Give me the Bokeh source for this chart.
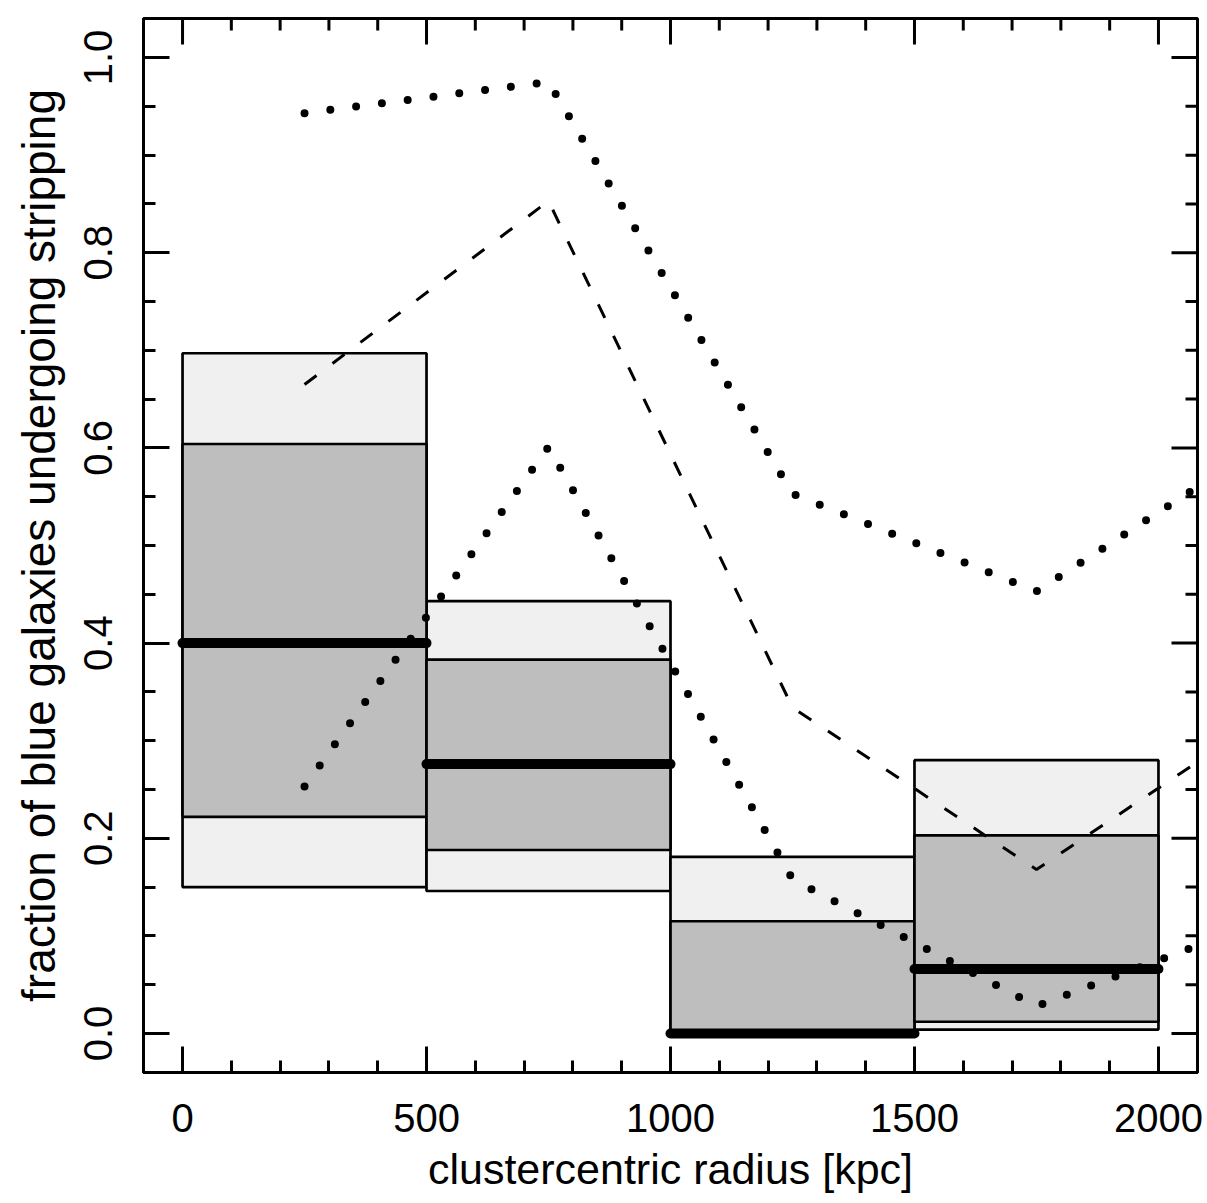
from bokeh.plotting import figure
from bokeh.models import LinearAxis, SingleIntervalTicker, Range1d, PrintfTickFormatter
from bokeh.embed import file_html
from bokeh.resources import INLINE

# ---- data ----
bin_left = [0, 500, 1000, 1500]
bin_right = [500, 1000, 1500, 2000]
outer_lo = [0.150, 0.146, 0.000, 0.004]
outer_hi = [0.697, 0.443, 0.181, 0.280]
inner_lo = [0.222, 0.188, 0.000, 0.012]
inner_hi = [0.604, 0.383, 0.115, 0.203]
median = [0.400, 0.276, 0.000, 0.066]

curve_x = [250, 750, 1250, 1750, 2250]
dashed_y = [0.665, 0.853, 0.334, 0.168, 0.335]
upper_dot_y = [0.943, 0.975, 0.553, 0.453, 0.615]
lower_dot_y = [0.253, 0.601, 0.158, 0.028, 0.122]

# tick values
x_major = [0, 500, 1000, 1500, 2000]
x_minor = [100, 200, 300, 400, 600, 700, 800, 900, 1100, 1200, 1300, 1400,
           1600, 1700, 1800, 1900]
y_major = [0.0, 0.2, 0.4, 0.6, 0.8, 1.0]
y_minor = [0.05, 0.1, 0.15, 0.25, 0.3, 0.35, 0.45, 0.5, 0.55, 0.65, 0.7, 0.75,
           0.85, 0.9, 0.95]

FONT = "Liberation Sans"
X0, X1 = -80, 2080
Y0, Y1 = -0.04, 1.04
FW, FH = 1054, 1054  # frame size in px

p = figure(width=1207, height=1203, output_backend="svg", toolbar_location=None,
           x_range=Range1d(X0, X1), y_range=Range1d(Y0, Y1),
           x_axis_location=None, y_axis_location=None,
           min_border_left=143, min_border_right=10, min_border_top=18, min_border_bottom=131)
p.grid.visible = False
p.background_fill_color = "white"
p.border_fill_color = "white"
p.outline_line_color = "black"
p.outline_line_width = 3

# boxes
p.quad(left=bin_left, right=bin_right, bottom=outer_lo, top=outer_hi,
       fill_color="#f0f0f0", line_color="black", line_width=2.7)
p.quad(left=bin_left, right=bin_right, bottom=inner_lo, top=inner_hi,
       fill_color="#bebebe", line_color="black", line_width=2.7)
# medians
p.segment(x0=bin_left, x1=bin_right, y0=median, y1=median,
          line_color="black", line_width=10, line_cap="round")

# curves
p.line(curve_x, dashed_y, line_color="black", line_width=3, line_dash="15 20")
p.line(curve_x, upper_dot_y, line_color="black", line_width=8, line_dash="0 26", line_cap="round")
p.line(curve_x, lower_dot_y, line_color="black", line_width=8, line_dash="0 26", line_cap="round")

# ticks on top and right sides (mirror of bottom/left axes)
ux = (X1 - X0) / FW   # data units per px, x
uy = (Y1 - Y0) / FH   # data units per px, y
MAJ, MIN = 26, 12
p.segment(x0=x_major, x1=x_major, y0=[Y1] * len(x_major), y1=[Y1 - MAJ * uy] * len(x_major),
          line_color="black", line_width=3)
p.segment(x0=x_minor, x1=x_minor, y0=[Y1] * len(x_minor), y1=[Y1 - MIN * uy] * len(x_minor),
          line_color="black", line_width=3)
p.segment(y0=y_major, y1=y_major, x0=[X1] * len(y_major), x1=[X1 - MAJ * ux] * len(y_major),
          line_color="black", line_width=3)
p.segment(y0=y_minor, y1=y_minor, x0=[X1] * len(y_minor), x1=[X1 - MIN * ux] * len(y_minor),
          line_color="black", line_width=3)


def style(ax):
    ax.axis_line_width = 3
    ax.axis_line_color = "black"
    ax.major_tick_line_width = 3
    ax.minor_tick_line_width = 3
    ax.major_tick_in = MAJ
    ax.major_tick_out = 0
    ax.minor_tick_in = MIN
    ax.minor_tick_out = 0
    ax.major_label_text_font = FONT
    ax.axis_label_text_font = FONT
    ax.axis_label_text_font_style = "normal"
    ax.major_label_text_color = "black"
    ax.axis_label_text_color = "black"


xb = LinearAxis(ticker=SingleIntervalTicker(interval=500, num_minor_ticks=5),
                axis_label="clustercentric radius [kpc]")
style(xb)
xb.major_label_text_font_size = "40px"
xb.major_label_standoff = 31
xb.axis_label_text_font_size = "43px"
xb.axis_label_standoff = 10
p.add_layout(xb, "below")

yl = LinearAxis(ticker=SingleIntervalTicker(interval=0.2, num_minor_ticks=4),
                axis_label="fraction of blue galaxies undergoing stripping",
                formatter=PrintfTickFormatter(format="%.1f"))
style(yl)
yl.major_label_text_font_size = "40px"
yl.major_label_orientation = "vertical"
yl.major_label_standoff = 31
yl.axis_label_text_font_size = "46px"
yl.axis_label_standoff = 17
p.add_layout(yl, "left")

open("out.html", "w").write(file_html(p, INLINE))
